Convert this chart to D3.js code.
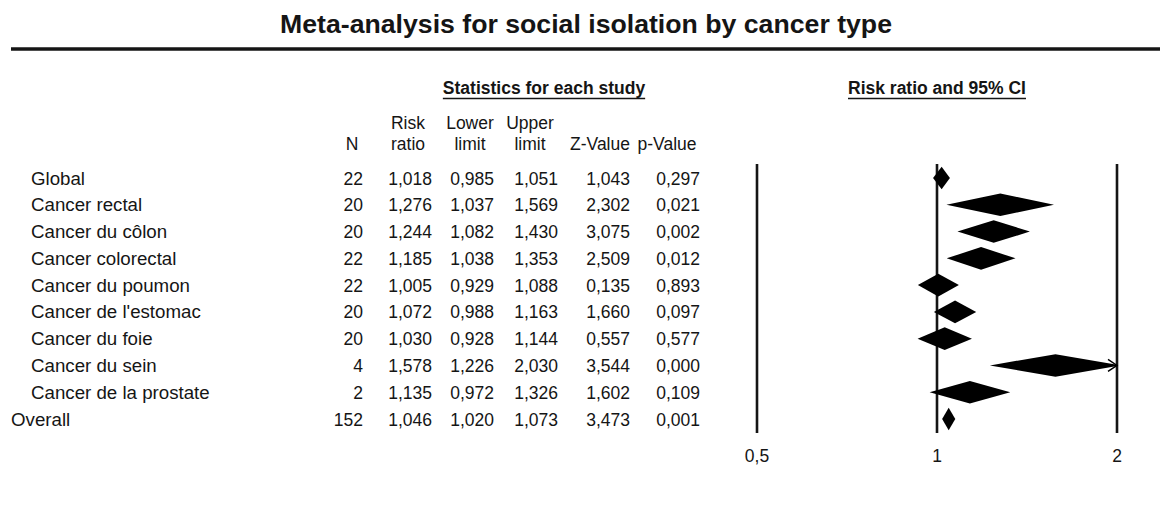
<!DOCTYPE html>
<html>
<head>
<meta charset="utf-8">
<script src="https://cdn.jsdelivr.net/npm/d3@7"></script>
<style>
  html, body { margin: 0; padding: 0; background: #fff; }
  svg { display: block; font-family: "Liberation Sans", Arial, sans-serif; }
</style>
</head>
<body>
<svg id="chart" width="1160" height="511"></svg>
<script>
// ---------------- data ----------------
const title = "Meta-analysis for social isolation by cancer type";
const groupHeader = "Statistics for each study";
const plotHeader = "Risk ratio and 95% CI";
const categories = ["Global", "Cancer rectal", "Cancer du côlon", "Cancer colorectal", "Cancer du poumon",
  "Cancer de l'estomac", "Cancer du foie", "Cancer du sein", "Cancer de la prostate", "Overall"];
const nValues    = [22, 20, 20, 22, 22, 20, 20, 4, 2, 152];
const riskRatio  = [1.018, 1.276, 1.244, 1.185, 1.005, 1.072, 1.030, 1.578, 1.135, 1.046];
const lowerLimit = [0.985, 1.037, 1.082, 1.038, 0.929, 0.988, 0.928, 1.226, 0.972, 1.020];
const upperLimit = [1.051, 1.569, 1.430, 1.353, 1.088, 1.163, 1.144, 2.030, 1.326, 1.073];
const zValues    = [1.043, 2.302, 3.075, 2.509, 0.135, 1.660, 0.557, 3.544, 1.602, 3.473];
const pValues    = [0.297, 0.021, 0.002, 0.012, 0.893, 0.097, 0.577, 0.000, 0.109, 0.001];
const axisTicks  = [0.5, 1, 2];
const axisTickLabels = ["0,5", "1", "2"];
const columnHeaders = [["", "N"], ["Risk", "ratio"], ["Lower", "limit"], ["Upper", "limit"], ["", "Z-Value"], ["", "p-Value"]];

// ---------------- layout ----------------
const svg = d3.select("#chart");
const ink = "#151515";
const fs = 17.5;
const labelFs = 18.7;

const locale = d3.formatLocale({decimal: ",", thousands: ".", grouping: [3], currency: ["", ""]});
const f3 = locale.format(".3f");

const x = d3.scaleLog().domain([0.5, 2]).range([757, 1117]);
const y = d3.scalePoint().domain(categories).range([178, 419]);
const halfH = 11.3;

// title
svg.append("text")
  .attr("x", 586).attr("y", 33)
  .attr("text-anchor", "middle")
  .attr("font-size", 26).attr("font-weight", "bold")
  .attr("textLength", 612).attr("lengthAdjust", "spacingAndGlyphs")
  .attr("fill", ink)
  .text(title);

svg.append("line")
  .attr("x1", 11).attr("x2", 1160).attr("y1", 49).attr("y2", 49)
  .attr("stroke", ink).attr("stroke-width", 3.5);

// underlined headers
function underlinedHeader(text, cx) {
  const t = svg.append("text")
    .attr("x", cx).attr("y", 94)
    .attr("text-anchor", "middle")
    .attr("font-size", fs).attr("font-weight", "bold")
    .attr("fill", ink)
    .text(text);
  const w = t.node().getComputedTextLength();
  svg.append("line")
    .attr("x1", cx - w / 2).attr("x2", cx + w / 2)
    .attr("y1", 98.5).attr("y2", 98.5)
    .attr("stroke", ink).attr("stroke-width", 1.4);
}
underlinedHeader(groupHeader, 544);
underlinedHeader(plotHeader, x(1));

// columns (right edges of values, header centers)
const colRight = [363, 432, 494, 558, 630, 700];
const colHeadX = [352, 408, 470, 530, 600, 667];

columnHeaders.forEach((h, i) => {
  [h[0], h[1]].forEach((line, j) => {
    if (!line) return;
    svg.append("text")
      .attr("x", colHeadX[i]).attr("y", j === 0 ? 129 : 150)
      .attr("text-anchor", "middle")
      .attr("font-size", fs).attr("fill", ink)
      .text(line);
  });
});

// rows
const rows = categories.map((c, i) => ({
  label: c, n: nValues[i], rr: riskRatio[i], lo: lowerLimit[i], hi: upperLimit[i], z: zValues[i], p: pValues[i]
}));

const rowG = svg.append("g").selectAll("g").data(rows).join("g")
  .attr("transform", d => `translate(0,${y(d.label) + 6.5})`);

rowG.append("text")
  .attr("x", d => d.label === "Overall" ? 11 : 31)
  .attr("font-size", labelFs).attr("fill", ink)
  .text(d => d.label);

const cellFns = [d => String(d.n), d => f3(d.rr), d => f3(d.lo), d => f3(d.hi), d => f3(d.z), d => f3(d.p)];
cellFns.forEach((fn, i) => {
  rowG.append("text")
    .attr("x", colRight[i])
    .attr("text-anchor", "end")
    .attr("font-size", fs).attr("fill", ink)
    .text(fn);
});

// forest plot reference lines
const lineTop = 164, lineBottom = 433;
svg.append("g").selectAll("line").data(axisTicks).join("line")
  .attr("x1", d => x(d)).attr("x2", d => x(d))
  .attr("y1", lineTop).attr("y2", lineBottom)
  .attr("stroke", ink).attr("stroke-width", 2.6);

svg.append("g").selectAll("text").data(axisTicks).join("text")
  .attr("x", d => x(d)).attr("y", 461.5)
  .attr("text-anchor", "middle")
  .attr("font-size", fs).attr("fill", ink)
  .text((d, i) => axisTickLabels[i]);

// clip for diamonds
svg.append("clipPath").attr("id", "plotclip")
  .append("rect")
  .attr("x", x(0.5)).attr("y", 150)
  .attr("width", x(2) - x(0.5)).attr("height", 300);

const dg = svg.append("g").attr("clip-path", "url(#plotclip)");
dg.selectAll("path").data(rows).join("path")
  .attr("d", d => {
    const cy = y(d.label);
    return `M${x(d.lo)},${cy}L${x(d.rr)},${cy - halfH}L${x(d.hi)},${cy}L${x(d.rr)},${cy + halfH}Z`;
  })
  .attr("fill", "#000");

// arrows for truncated intervals
const maxV = x.domain()[1];
svg.append("g").selectAll("path").data(rows.filter(d => d.hi > maxV)).join("path")
  .attr("d", d => {
    const cy = y(d.label), xe = x(maxV);
    return `M${xe - 9},${cy - 6}L${xe},${cy}L${xe - 9},${cy + 6}`;
  })
  .attr("fill", "none").attr("stroke", "#000").attr("stroke-width", 1.4);
</script>
</body>
</html>
